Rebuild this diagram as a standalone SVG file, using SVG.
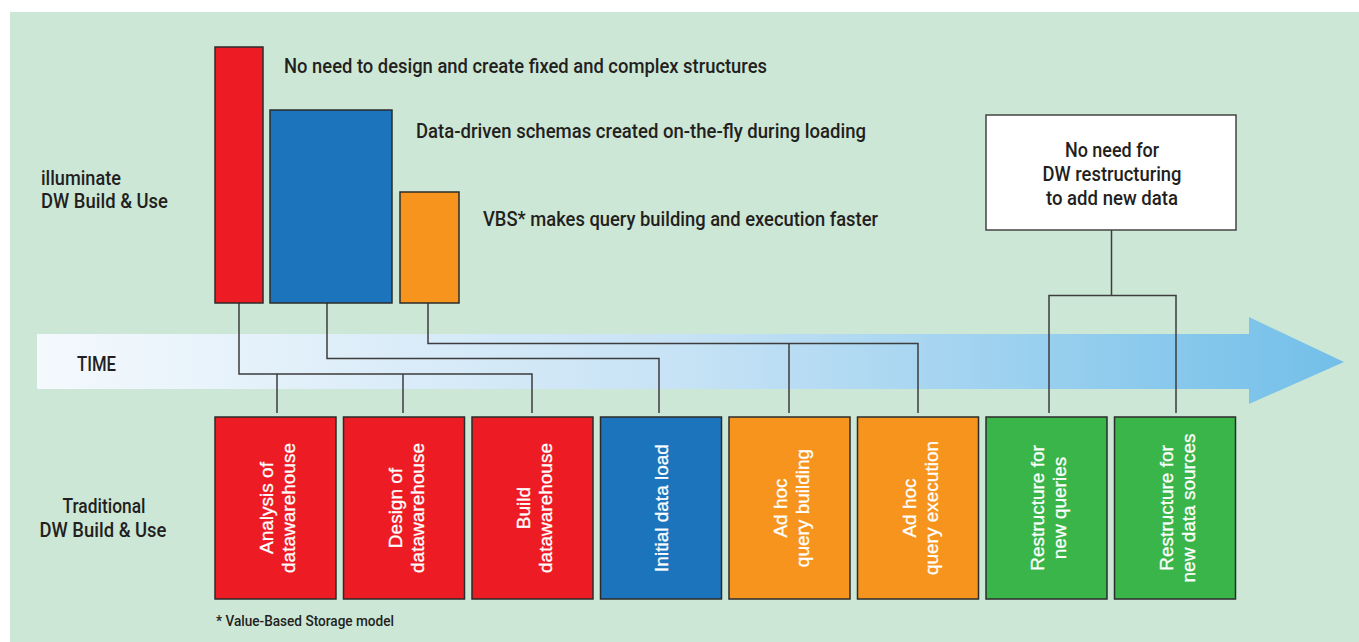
<svg xmlns="http://www.w3.org/2000/svg" width="1359" height="642" viewBox="0 0 1359 642">
<defs>
<linearGradient id="band" gradientUnits="userSpaceOnUse" x1="37" y1="0" x2="1344" y2="0">
<stop offset="0" stop-color="#f4f9fd"/>
<stop offset="0.5" stop-color="#c6e2f5"/>
<stop offset="1" stop-color="#72bfe9"/>
</linearGradient>
<style>
.lbl{font-family:Roboto,"Liberation Sans",sans-serif;font-size:20px;font-weight:500;fill:#231f20}
.vt{font-family:"Liberation Sans",Arial,sans-serif;font-size:19px;fill:#ffffff;stroke:#ffffff;stroke-width:0.3;text-anchor:middle}
.box{stroke:#2b2b2b;stroke-width:1.5}
.red{fill:#ed1c24}.blue{fill:#1c75bc}.orange{fill:#f7941d}.green{fill:#39b54a}
.conn{fill:none;stroke:#3d3d3d;stroke-width:1.5}
</style>
</defs>
<rect x="0" y="0" width="1359" height="642" fill="#ffffff"/>
<rect x="10" y="12" width="1349" height="630" fill="#cde7d6"/>
<g id="time-arrow">
<polygon points="37,334 1249,334 1249,317 1344,362 1249,404 1249,389 37,389" fill="url(#band)"/>
<text class="lbl" x="77" y="371" textLength="39" lengthAdjust="spacingAndGlyphs">TIME</text>
</g>
<g id="labels">
<text class="lbl" x="41" y="185" textLength="80" lengthAdjust="spacingAndGlyphs">illuminate</text>
<text class="lbl" x="41" y="208" textLength="127" lengthAdjust="spacingAndGlyphs">DW Build &amp; Use</text>
<text class="lbl" x="104" y="513" text-anchor="middle" textLength="83" lengthAdjust="spacingAndGlyphs">Traditional</text>
<text class="lbl" x="103" y="537" text-anchor="middle" textLength="127" lengthAdjust="spacingAndGlyphs">DW Build &amp; Use</text>
<text class="lbl" x="216" y="626" style="font-size:15px" textLength="178" lengthAdjust="spacingAndGlyphs">* Value-Based Storage model</text>
</g>
<g id="connectors">
<path class="conn" d="M239,303 V374 H532 V413 M277,374 V413 M403,374 V413"/>
<path class="conn" d="M327,303 V358.5 H659 V413"/>
<path class="conn" d="M428,303 V343.5 H918 V413 M789,343.5 V413"/>
<path class="conn" d="M1111.5,230 V295.5 H1049 V413 M1111.5,295.5 H1176 V413"/>
</g>
<g id="bar-red">
<rect class="box red" x="215" y="47" width="48" height="256"/>
<text class="lbl" x="284" y="73" textLength="483" lengthAdjust="spacingAndGlyphs">No need to design and create fixed and complex structures</text>
</g>
<g id="bar-blue">
<rect class="box blue" x="270" y="110" width="122" height="193"/>
<text class="lbl" x="416" y="138" textLength="450" lengthAdjust="spacingAndGlyphs">Data-driven schemas created on-the-fly during loading</text>
</g>
<g id="bar-orange">
<rect class="box orange" x="400" y="192" width="59" height="111"/>
<text class="lbl" x="483" y="226" textLength="395" lengthAdjust="spacingAndGlyphs">VBS* makes query building and execution faster</text>
</g>
<g id="no-restructure">
<rect x="986" y="115" width="250" height="115" fill="#ffffff" stroke="#444444" stroke-width="1.5"/>
<text class="lbl" x="1112" y="157" text-anchor="middle" textLength="94" lengthAdjust="spacingAndGlyphs">No need for</text>
<text class="lbl" x="1112" y="181" text-anchor="middle" textLength="139" lengthAdjust="spacingAndGlyphs">DW restructuring</text>
<text class="lbl" x="1112" y="205" text-anchor="middle" textLength="132" lengthAdjust="spacingAndGlyphs">to add new data</text>
</g>
<g id="step-analysis">
<rect class="box red" x="215" y="417" width="121" height="182"/>
<text class="vt" transform="translate(275.5,508) rotate(-90)"><tspan x="0" y="-2.5">Analysis of</tspan><tspan x="0" y="19.5">datawarehouse</tspan></text>
</g>
<g id="step-design">
<rect class="box red" x="343.5" y="417" width="121" height="182"/>
<text class="vt" transform="translate(404,508) rotate(-90)"><tspan x="0" y="-2.5">Design of</tspan><tspan x="0" y="19.5">datawarehouse</tspan></text>
</g>
<g id="step-build">
<rect class="box red" x="472" y="417" width="121" height="182"/>
<text class="vt" transform="translate(532.5,508) rotate(-90)"><tspan x="0" y="-2.5">Build</tspan><tspan x="0" y="19.5">datawarehouse</tspan></text>
</g>
<g id="step-load">
<rect class="box blue" x="600.5" y="417" width="121" height="182"/>
<text class="vt" transform="translate(661,508) rotate(-90)"><tspan x="0" y="7">Initial data load</tspan></text>
</g>
<g id="step-adhoc-build">
<rect class="box orange" x="729" y="417" width="121" height="182"/>
<text class="vt" transform="translate(789.5,508) rotate(-90)"><tspan x="0" y="-2.5">Ad hoc</tspan><tspan x="0" y="19.5">query building</tspan></text>
</g>
<g id="step-adhoc-exec">
<rect class="box orange" x="857.5" y="417" width="121" height="182"/>
<text class="vt" transform="translate(918,508) rotate(-90)"><tspan x="0" y="-2.5">Ad hoc</tspan><tspan x="0" y="19.5">query execution</tspan></text>
</g>
<g id="step-restructure-queries">
<rect class="box green" x="986" y="417" width="121" height="182"/>
<text class="vt" transform="translate(1046.5,508) rotate(-90)"><tspan x="0" y="-2.5">Restructure for</tspan><tspan x="0" y="19.5">new queries</tspan></text>
</g>
<g id="step-restructure-sources">
<rect class="box green" x="1114.5" y="417" width="121" height="182"/>
<text class="vt" transform="translate(1175,508) rotate(-90)"><tspan x="0" y="-2.5">Restructure for</tspan><tspan x="0" y="19.5">new data sources</tspan></text>
</g>
</svg>
